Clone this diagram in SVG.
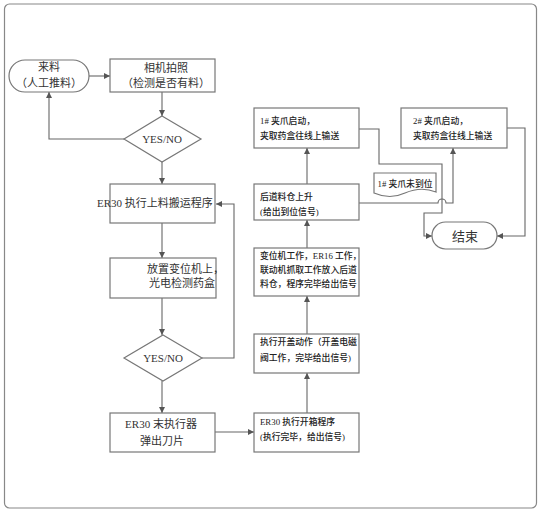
<svg xmlns="http://www.w3.org/2000/svg" width="544" height="513" viewBox="0 0 544 513">
<defs>
<marker id="arr" markerWidth="7" markerHeight="6" refX="6" refY="3" orient="auto" markerUnits="userSpaceOnUse">
<path d="M0,0 L6,3 L0,6 z" fill="#555"/>
</marker>
<style>
.box{fill:#fff;stroke:#777;stroke-width:1.2}
.c{fill:none;stroke:#666;stroke-width:1.1}
.a{marker-end:url(#arr)}
.t{font-family:"Liberation Serif","Noto Sans CJK SC",serif;font-size:11px;fill:#333}
.s{font-family:"Liberation Serif","Noto Sans CJK SC",serif;font-size:8.8px;fill:#222;font-weight:500}
.m{text-anchor:middle}
</style>
</defs>
<rect x="4.5" y="4" width="532" height="504" rx="5" fill="#fff" stroke="#888" stroke-width="1.2"/>

<g id="connectors">
<path class="c a" d="M89,76 H110"/>
<path class="c a" d="M162,92 V116"/>
<path class="c a" d="M124,139 H49 V92"/>
<path class="c a" d="M162,162 V184"/>
<path class="c a" d="M162,223 V258"/>
<path class="c a" d="M162,298 V335"/>
<path class="c a" d="M202,358 H234 V204 H216"/>
<path class="c a" d="M162,381 V413"/>
<path class="c a" d="M215,432 H254"/>
<path class="c a" d="M307,413 V373"/>
<path class="c a" d="M307,334 V296"/>
<path class="c a" d="M307,248 V220"/>
<path class="c a" d="M307,184 V148"/>
<path class="c a" d="M359,203 H438 A4,4 0 0 1 446,203 H453 V148"/>
<path class="c a" d="M359,129 H379 V164 H442 V213 H424 V236 H432"/>
<path class="c a" d="M507,128 H525 V236 H497"/>
</g>

<g id="n-start">
<rect class="box" x="9" y="60" width="80" height="32" rx="16"/>
<text class="t m" x="49" y="71">来料</text>
<text class="t m" x="49" y="87">（人工推料）</text>
</g>

<g id="n-camera">
<rect class="box" x="110" y="59" width="105" height="33"/>
<text class="t m" x="166" y="72">相机拍照</text>
<text class="t m" x="166" y="87">（检测是否有料）</text>
</g>

<g id="n-dec1">
<polygon class="box" points="162,116 201,139 162,162 124,139"/>
<text class="t m" x="162" y="143">YES/NO</text>
</g>

<g id="n-er30load">
<rect class="box" x="110" y="184" width="105" height="39"/>
<text class="t" x="97" y="207">ER30 执行上料搬运程序</text>
</g>

<g id="n-place">
<rect class="box" x="110" y="258" width="106" height="40"/>
<text class="t" x="147" y="273">放置变位机上，</text>
<text class="t" x="149" y="287">光电检测药盒</text>
</g>

<g id="n-dec2">
<polygon class="box" points="163,335 202,358 163,381 124,358"/>
<text class="t m" x="163" y="362">YES/NO</text>
</g>

<g id="n-blade">
<rect class="box" x="110" y="413" width="105" height="39"/>
<text class="t m" x="161" y="428">ER30 末执行器</text>
<text class="t m" x="162" y="445">弹出刀片</text>
</g>

<g id="n-openbox">
<rect class="box" x="254" y="413" width="105" height="39"/>
<text class="s" x="260" y="425">ER30 执行开箱程序</text>
<text class="s" x="260" y="440">(执行完毕，给出信号)</text>
</g>

<g id="n-lid">
<rect class="box" x="254" y="334" width="105" height="39"/>
<text class="s" x="260" y="345">执行开盖动作（开盖电磁</text>
<text class="s" x="260" y="361">阀工作，完毕给出信号)</text>
</g>

<g id="n-positioner">
<rect class="box" x="254" y="248" width="105" height="48"/>
<text class="s" x="260" y="259">变位机工作，ER16 工作，</text>
<text class="s" x="260" y="273">联动机抓取工作放入后道</text>
<text class="s" x="260" y="287">料仓，程序完毕给出信号</text>
</g>

<g id="n-silo">
<rect class="box" x="254" y="184" width="105" height="36"/>
<text class="s" x="260" y="200">后道料仓上升</text>
<text class="s" x="260" y="215">(给出到位信号)</text>
</g>

<g id="n-grip1">
<rect class="box" x="254" y="108" width="105" height="40"/>
<text class="s" x="260" y="124">1# 夹爪启动，</text>
<text class="s" x="260" y="139">夹取药盒往线上输送</text>
</g>

<g id="n-grip2">
<rect class="box" x="401" y="108" width="106" height="40"/>
<text class="s" x="413" y="124">2# 夹爪启动，</text>
<text class="s" x="413" y="139">夹取药盒往线上输送</text>
</g>

<g id="n-note">
<path class="box" d="M374,173 H436 V192 Q421,186 405,193 Q390,200 374,193 Z"/>
<text class="s m" x="405" y="187">1# 夹爪未到位</text>
</g>

<g id="n-end">
<rect class="box" x="432" y="222" width="65" height="27" rx="13.5"/>
<text class="t m" x="465" y="241" style="font-size:13px">结束</text>
</g>
</svg>
